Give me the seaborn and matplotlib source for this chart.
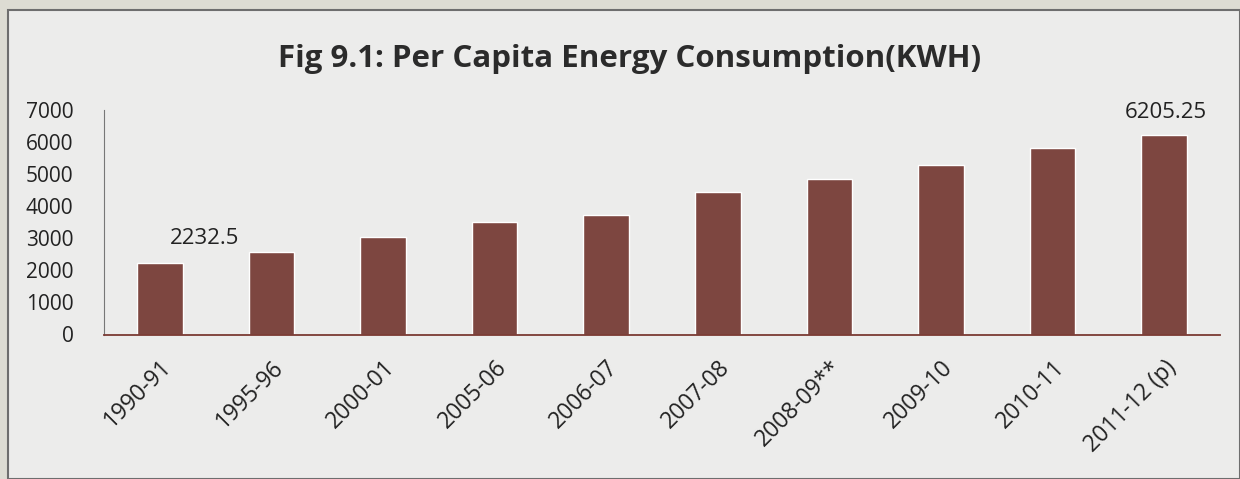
import matplotlib
matplotlib.use("Agg")
import matplotlib.pyplot as plt
import seaborn as sns
import pandas as pd
from matplotlib.patches import Rectangle

# Per capita energy consumption (KWH)
years = ["1990-91", "1995-96", "2000-01", "2005-06", "2006-07",
         "2007-08", "2008-09**", "2009-10", "2010-11", "2011-12 (p)"]
kwh = [2232.5, 2575, 3040, 3510, 3736, 4458, 4842, 5290, 5823, 6205.25]
yticks = [0, 1000, 2000, 3000, 4000, 5000, 6000, 7000]

df = pd.DataFrame({"year": years, "kwh": kwh})

sns.set_style("white")
plt.rcParams["font.family"] = ["Open Sans", "DejaVu Sans"]

fig = plt.figure(figsize=(12.4, 4.79), dpi=100)
fig.patch.set_facecolor("#dddcd3")
# chart frame
fig.patches.append(Rectangle((8 / 1240, 0), 1 - 8 / 1240, 1 - 10 / 479,
                             transform=fig.transFigure, facecolor="#ececeb",
                             edgecolor="#6e6e6e", linewidth=1.5, zorder=-5))

ax = fig.add_axes([104 / 1240, 1 - 334.5 / 479, (1220 - 104) / 1240, (334.5 - 110) / 479])
ax.set_facecolor("none")

sns.barplot(data=df, x="year", y="kwh", color="#7d4640", saturation=1,
            width=0.41, ax=ax)

ax.set_ylim(0, 7000)
ax.set_xlim(-0.5, len(years) - 0.5)
ax.set_yticks(yticks)
ax.set_yticklabels([str(t) for t in yticks], fontsize=15, color="#222222")
ax.set_xlabel("")
ax.set_ylabel("")

# category ticks sit between the bars
ax.set_xticks([i + 0.5 for i in range(-1, len(years))], minor=True)
ax.set_xticks(range(len(years)))
ax.set_xticklabels(years, rotation=45, ha="right", rotation_mode="anchor",
                   fontsize=16.5, color="#222222")
ax.tick_params(axis="x", which="major", length=0, pad=15)
ax.tick_params(axis="x", which="minor", length=5, color="#555555", direction="out")
ax.tick_params(axis="y", length=6, color="#555555", direction="out", pad=16)

for side in ["top", "right"]:
    ax.spines[side].set_visible(False)
ax.spines["left"].set_color("#777777")
ax.spines["bottom"].set_color("#7a3a33")
ax.spines["bottom"].set_linewidth(1.3)

# data labels on first and last bar only
ax.annotate(f"{kwh[0]:g}", (0, kwh[0]), xytext=(32.5, 17.5), textcoords="offset points",
            ha="center", va="center", fontsize=16, color="#222222")
ax.annotate(f"{kwh[-1]:g}", (len(years) - 1, kwh[-1]), xytext=(1.5, 16.5),
            textcoords="offset points", ha="center", va="center",
            fontsize=16, color="#222222")

fig.text(630 / 1240, 1 - 59 / 479, "Fig 9.1: Per Capita Energy Consumption(KWH)",
         ha="center", va="center", fontsize=22.5, fontweight="bold", color="#2b2b2b")

fig.savefig("out.png", dpi=100, facecolor=fig.get_facecolor())
